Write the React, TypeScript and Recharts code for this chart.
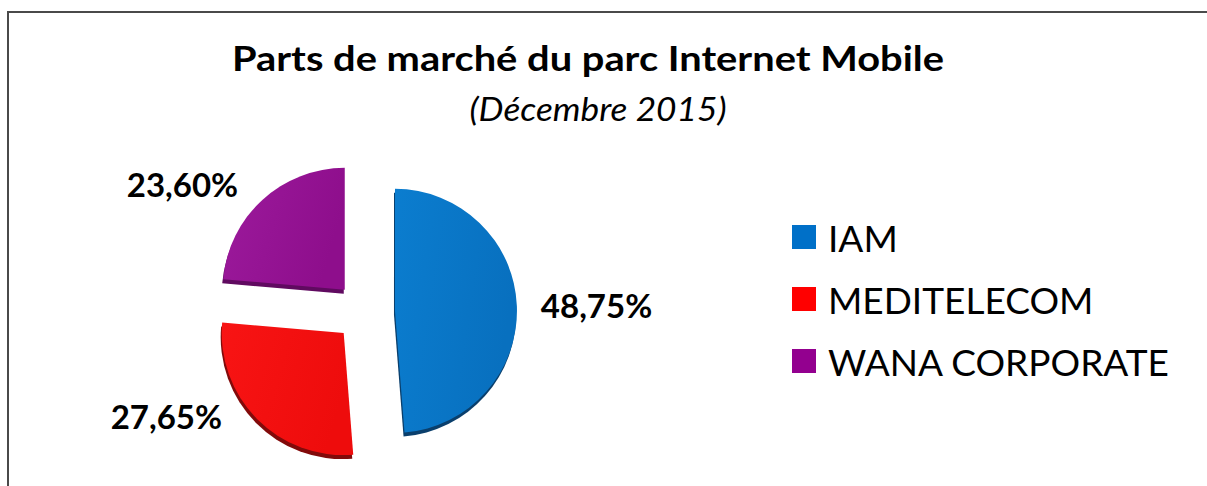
import React from 'react';
import { PieChart, Pie, Cell, Legend } from 'recharts';

const CATEGORIES = ['IAM', 'MEDITELECOM', 'WANA CORPORATE'];
const SHARES = [48.75, 27.65, 23.6];
const TITLE = 'Parts de marché du parc Internet Mobile';
const SUBTITLE = '(Décembre 2015)';

const FILL_LIGHT = ['#0B7DCF', '#F81414', '#9C1A9C'];
const FILL_DARK = ['#0870BF', '#EE0C0C', '#8E0E8C'];
const EDGES = ['#0A3F6C', '#820A0A', '#600A60'];
const LEGEND_COLORS = ['#0070C8', '#FF0000', '#93008F'];

const data = CATEGORIES.map((name, i) => ({ name, value: SHARES[i] }));

const W = 1207;
const H = 486;
const CX = 360;
const CY = 307;
const R = 122;
const EXPLODE = 30;
const FONT = 'Lato, "Open Sans", sans-serif';

const total = SHARES.reduce((a, b) => a + b, 0);
const offsets = SHARES.map((v, i) => {
  const before = SHARES.slice(0, i).reduce((a, b) => a + b, 0);
  const mid = ((before + v / 2) / total) * 2 * Math.PI;
  return { dx: EXPLODE * Math.sin(mid), dy: -EXPLODE * Math.cos(mid) };
});

const fmt = (v: number) => v.toFixed(2).replace('.', ',') + '%';

const makeLabel = (visible: number) => (p: any) => {
  if (p.index !== visible) return null;
  const RAD = Math.PI / 180;
  const r = p.outerRadius + 24;
  const c = Math.cos(-p.midAngle * RAD);
  const s = Math.sin(-p.midAngle * RAD);
  const below = s > 0.3;
  const x = p.cx + r * c - (c < 0 ? (below ? 18 : 8) : 0);
  const y = p.cy + r * s - (below ? 20 : 0) + (s < -0.3 ? 2 : 0);
  return (
    <text
      x={x}
      y={y}
      textAnchor={c >= 0 ? 'start' : 'end'}
      dominantBaseline="central"
      fill="#000"
      style={{ fontFamily: FONT, fontWeight: 700, fontSize: 33 }}
    >
      {fmt(p.value)}
    </text>
  );
};

const LegendContent = () => (
  <div style={{ fontFamily: FONT }}>
    {CATEGORIES.map((c, i) => (
      <div key={c} style={{ display: 'flex', alignItems: 'center', height: 62 }}>
        <div style={{ width: 24, height: 24, background: LEGEND_COLORS[i], marginRight: 12 }} />
        <span style={{ fontSize: 37, color: '#000', lineHeight: '37px' }}>{c}</span>
      </div>
    ))}
  </div>
);

export default function App() {
  return (
    <div style={{ position: 'absolute', left: 0, top: 0, width: W, height: H, overflow: 'hidden', background: '#fff' }}>
      <div
        style={{
          position: 'absolute',
          left: 7,
          top: 11,
          width: W + 20,
          height: H + 20,
          borderLeft: '2px solid #4a4a4a',
          borderTop: '2px solid #4a4a4a',
        }}
      />
      <PieChart width={W} height={H} style={{ position: 'absolute', left: 0, top: 0 }}>
        <defs>
          {FILL_LIGHT.map((c, i) => (
            <linearGradient key={i} id={`g${i}`} x1="0" y1="0" x2="1" y2="0.3">
              <stop offset="0%" stopColor={c} />
              <stop offset="100%" stopColor={FILL_DARK[i]} />
            </linearGradient>
          ))}
        </defs>
        {CATEGORIES.map((c, i) => (
          <Pie
            key={`shadow-${c}`}
            data={data}
            dataKey="value"
            nameKey="name"
            cx={CX + offsets[i].dx - 1}
            cy={CY + offsets[i].dy + 4}
            outerRadius={R}
            startAngle={90}
            endAngle={-270}
            stroke="none"
            isAnimationActive={false}
            labelLine={false}
            legendType="none"
          >
            {data.map((d, j) => (
              <Cell key={j} fill={j === i ? EDGES[i] : 'transparent'} stroke="none" />
            ))}
          </Pie>
        ))}
        {CATEGORIES.map((c, i) => (
          <Pie
            key={`front-${c}`}
            data={data}
            dataKey="value"
            nameKey="name"
            cx={CX + offsets[i].dx}
            cy={CY + offsets[i].dy}
            outerRadius={R}
            startAngle={90}
            endAngle={-270}
            stroke="none"
            isAnimationActive={false}
            labelLine={false}
            label={makeLabel(i)}
            legendType="none"
          >
            {data.map((d, j) => (
              <Cell key={j} fill={j === i ? `url(#g${i})` : 'transparent'} stroke="none" />
            ))}
          </Pie>
        ))}
        <Legend
          content={<LegendContent />}
          layout="vertical"
          align="right"
          verticalAlign="top"
          wrapperStyle={{ position: 'absolute', left: 792, top: 206, width: 400 }}
        />
      </PieChart>
      <svg width={W} height={H} style={{ position: 'absolute', left: 0, top: 0, pointerEvents: 'none' }}>
        <text
          x={588}
          y={71}
          textAnchor="middle"
          textLength={712}
          lengthAdjust="spacingAndGlyphs"
          style={{ fontFamily: FONT, fontWeight: 700, fontSize: 34 }}
          fill="#000"
        >
          {TITLE}
        </text>
        <text
          x={598}
          y={121}
          textAnchor="middle"
          textLength={257}
          lengthAdjust="spacingAndGlyphs"
          style={{ fontFamily: FONT, fontStyle: 'italic', fontSize: 32 }}
          fill="#000"
        >
          {SUBTITLE}
        </text>
      </svg>
    </div>
  );
}
